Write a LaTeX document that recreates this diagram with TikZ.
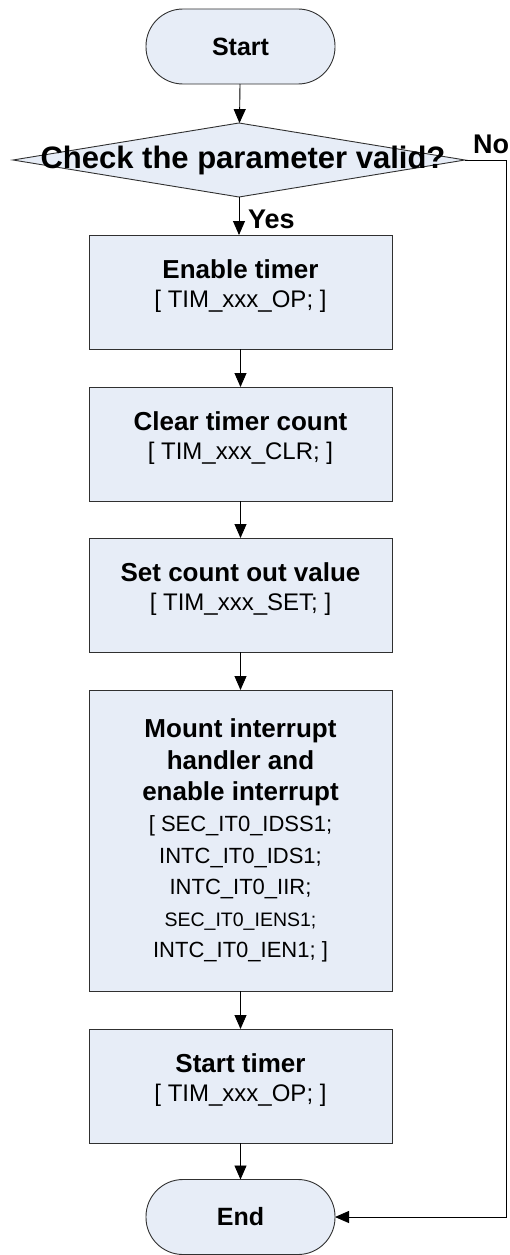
\documentclass[tikz,border=0pt]{standalone}
\usepackage{fontspec}
\setmainfont{Liberation Sans}
\usetikzlibrary{shapes.geometric,arrows.meta}

\definecolor{boxfill}{HTML}{E7EDF7}
\definecolor{edge}{HTML}{303030}

\tikzset{
  every node/.style={inner sep=0pt, outer sep=0pt},
  terminal/.style={draw=edge, fill=boxfill, line width=0.9pt,
    minimum width=189pt, minimum height=75pt, rounded corners=37pt,
    font=\fontsize{25}{30}\selectfont\bfseries},
  stepbox/.style={draw=edge, fill=boxfill, line width=0.9pt,
    minimum width=303pt, minimum height=114pt, align=center,
    font=\fontsize{24}{29}\selectfont},
  decision/.style={diamond, draw=edge, fill=boxfill, line width=0.9pt,
    minimum width=452pt, minimum height=74pt},
  flow/.style={draw=black, line width=0.9pt,
    -{Triangle[length=14pt,width=12pt]}},
  tag/.style={font=\fontsize{27}{30}\selectfont\bfseries},
}
% bold first line of a step
\newcommand{\headline}[1]{{\fontsize{26}{29}\selectfont\bfseries #1}}
% extra depth under the last line, so the text block sits a little high
\newcommand{\lift}[1]{\rule[-#1]{0pt}{0pt}}

\begin{document}
\begin{tikzpicture}[x=1pt, y=-1pt]
  \useasboundingbox (0,0) rectangle (510,1255);

  % terminals and process steps
  \node[terminal] (start) at (240.5,46.5) {Start};
  \node[decision] (check) at (239,160) {};
  \node[font=\fontsize{31}{34}\selectfont\bfseries] (checktext) at (243,160)
    {Check the parameter valid?};

  \node[stepbox] (enable) at (240.5,292)
    {\headline{Enable timer}\\ {[} TIM\_xxx\_OP; {]}\lift{17pt}};
  \node[stepbox] (clear) at (240.5,444)
    {\headline{Clear timer count}\\ {[} TIM\_xxx\_CLR; {]}\lift{17pt}};
  \node[stepbox] (setval) at (240.5,595)
    {\headline{Set count out value}\\ {[} TIM\_xxx\_SET; {]}\lift{17pt}};
  \node[stepbox, minimum height=301pt, font=\fontsize{22}{31.4}\selectfont]
    (mount) at (240.5,840.5)
    {\headline{Mount interrupt}\\ \headline{handler and}\\
     \headline{enable interrupt}\\ {[} SEC\_IT0\_IDSS1;\\
     INTC\_IT0\_IDS1;\\ INTC\_IT0\_IIR;\\
     {\fontsize{19.5}{31.4}\selectfont SEC\_IT0\_IENS1;}\\ INTC\_IT0\_IEN1; {]}};
  \node[stepbox] (run) at (240.5,1086)
    {\headline{Start timer}\\ {[} TIM\_xxx\_OP; {]}\lift{17pt}};
  \node[terminal] (finish) at (240.5,1217) {End};

  % main flow
  \draw[flow] (start) -- (check);
  \draw[flow] (check.south) -- (check.south |- enable.north);
  \draw[flow] (enable) -- (clear);
  \draw[flow] (clear) -- (setval);
  \draw[flow] (setval) -- (mount);
  \draw[flow] (mount) -- (run);
  \draw[flow] (run) -- (finish);

  % rejection branch
  \coordinate (bend) at (506,160);
  \draw[flow] (check.east) -- (bend) |- (finish.east);

  \node[tag, anchor=west] (yes) at (248,219) {Yes};
  \node[tag, anchor=south east] (no) at (509,154) {No};
\end{tikzpicture}
\end{document}
